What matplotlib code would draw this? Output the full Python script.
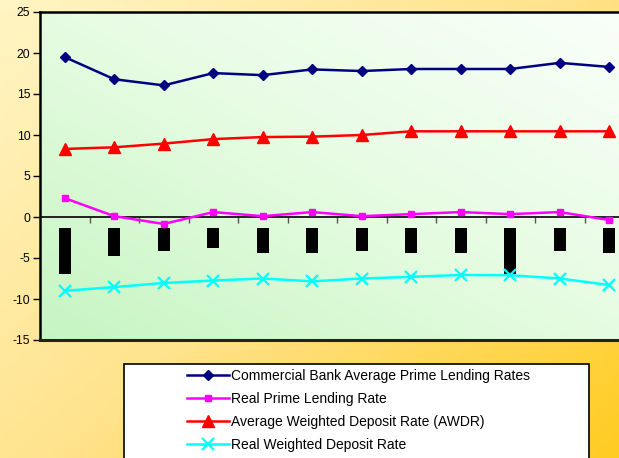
import numpy as np
import matplotlib
matplotlib.use("Agg")
import matplotlib.pyplot as plt
from matplotlib.colors import LinearSegmentedColormap
from matplotlib.patches import Rectangle

plt.rcParams['font.family'] = ['Liberation Sans', 'DejaVu Sans']

categories = list(range(1, 13))
prime_lending = [19.5, 16.8, 16.05, 17.55, 17.3, 18.0, 17.8, 18.05, 18.05, 18.05, 18.8, 18.3]
real_prime = [2.3, 0.1, -0.85, 0.6, 0.1, 0.6, 0.1, 0.35, 0.6, 0.35, 0.6, -0.37]
awdr = [8.3, 8.5, 8.95, 9.5, 9.75, 9.8, 10.0, 10.45, 10.45, 10.45, 10.45, 10.45]
real_deposit = [-9.0, -8.55, -8.05, -7.75, -7.5, -7.85, -7.5, -7.3, -7.07, -7.1, -7.5, -8.3]
box_top = -1.3
box_bottom = [-6.9, -4.7, -4.2, -3.75, -4.45, -4.45, -4.2, -4.45, -4.45, -6.9, -4.2, -4.45]
yticks = [-15, -10, -5, 0, 5, 10, 15, 20, 25]
labels = ["Commercial Bank Average Prime Lending Rates", "Real Prime Lending Rate",
          "Average Weighted Deposit Rate (AWDR)", "Real Weighted Deposit Rate"]

W, H = 619, 458
fig = plt.figure(figsize=(W / 100, H / 100), dpi=100)

# figure background gradient
bg = fig.add_axes([0, 0, 1, 1], zorder=-10)
bg.set_axis_off()
gx, gy = np.meshgrid(np.linspace(0, 1, 200), np.linspace(0, 1, 200))
g = (gx * 0.55 + gy * 0.45)
cmap_bg = LinearSegmentedColormap.from_list("bg", ["#FFF5C4", "#FFE38C", "#FFCC22"])
bg.imshow(g, cmap=cmap_bg, extent=[0, 1, 0, 1], aspect='auto', origin='upper')
bg.set_xlim(0, 1); bg.set_ylim(0, 1)

ax = fig.add_axes([40 / W, 118 / H, 594 / W, 328 / H])
x = np.arange(len(categories))
ax.set_xlim(-0.5, len(categories) - 0.5)
ax.set_ylim(-15, 25)

# plot area gradient
px, py = np.meshgrid(np.linspace(0, 1, 200), np.linspace(0, 1, 200))
pg = (1 - px) * 0.5 + py * 0.5
cmap_pa = LinearSegmentedColormap.from_list("pa", ["#FAFFFA", "#E6FCE2", "#C6F5C2"])
ax.imshow(pg, cmap=cmap_pa, extent=[-0.5, len(categories) - 0.5, -15, 25],
          aspect='auto', origin='upper', zorder=0)

# black boxes
heights = [b - box_top for b in box_bottom]
ax.bar(x, heights, bottom=box_top, width=0.25, color='black', zorder=2)

ax.axhline(0, color='black', lw=1.2, zorder=1.5)

ax.plot(x, prime_lending, color='#000080', lw=1.8, marker='D', ms=5.5, zorder=3, label=labels[0])
ax.plot(x, real_prime, color='#FF00FF', lw=1.8, marker='s', ms=5, zorder=3, label=labels[1])
ax.plot(x, awdr, color='#FF0000', lw=1.8, marker='^', ms=9, zorder=3, label=labels[2])
ax.plot(x, real_deposit, color='#00FFFF', lw=1.8, marker='x', ms=8, mew=1.6, zorder=3, label=labels[3])

# axes styling
ax.spines['right'].set_visible(False)
ax.spines['left'].set_linewidth(1.8)
ax.spines['top'].set_linewidth(1.8)
ax.spines['bottom'].set_linewidth(2.2)
ax.spines['bottom'].set_color('#222222')

ax.set_yticks(yticks)
ax.set_yticklabels([str(v) for v in yticks], fontsize=8.7)
ax.tick_params(axis='y', direction='out', length=5, width=1, pad=2)
ax.set_xticks(np.arange(0.5, len(categories) - 1, 1))
ax.set_xticklabels([])
ax.tick_params(axis='x', length=0)
sec = ax.secondary_xaxis(15 / 40)
sec.set_xticks(np.arange(0.5, len(categories) - 1, 1))
sec.set_xticklabels([])
sec.tick_params(direction='out', length=4, width=1, color='#555555')
sec.spines['bottom'].set_visible(False)

# legend box
fig.patches.append(Rectangle((124 / W, -0.05), (589 - 124) / W, (458 - 364) / H + 0.05,
                             transform=fig.transFigure, facecolor='white',
                             edgecolor='black', lw=1.2, zorder=5))
handles, labs = ax.get_legend_handles_labels()
leg = fig.legend(handles, labs, loc='upper left', bbox_to_anchor=(187 / W, 1 - 369 / H),
                 frameon=False, fontsize=10, handlelength=3.0, handletextpad=0.2,
                 borderpad=0, borderaxespad=0, labelspacing=0.65)
leg.set_zorder(6)

fig.savefig("out.png", dpi=100)
